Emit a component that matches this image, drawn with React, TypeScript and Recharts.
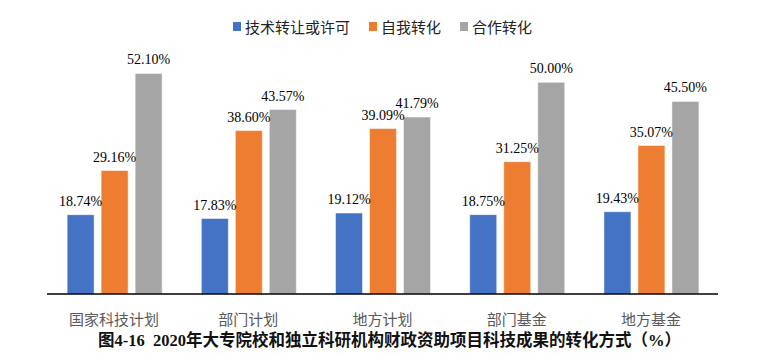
import React from "react";
import { BarChart, Bar, XAxis, YAxis, Legend, LabelList } from "recharts";

const categories = ["国家科技计划", "部门计划", "地方计划", "部门基金", "地方基金"];
const transferLicense = [18.74, 17.83, 19.12, 18.75, 19.43];
const selfTransform = [29.16, 38.6, 39.09, 31.25, 35.07];
const cooperation = [52.1, 43.57, 41.79, 50.0, 45.5];
const seriesNames = ["技术转让或许可", "自我转化", "合作转化"];
const seriesColors = ["#4472C4", "#ED7D31", "#A5A5A5"];
const titleText = "图4-16  2020年大专院校和独立科研机构财政资助项目科技成果的转化方式（%）";

const data = categories.map((c, i) => ({
  name: c,
  a: transferLicense[i],
  b: selfTransform[i],
  c: cooperation[i],
}));

const SERIF = "'Times New Roman', 'Liberation Serif', 'Noto Sans CJK SC', serif";

const LegendContent = () => (
  <div
    style={{
      height: 28,
      display: "flex",
      justifyContent: "center",
      alignItems: "center",
      fontFamily: SERIF,
      fontSize: 15,
      color: "#222",
    }}
  >
    {seriesNames.map((n, i) => (
      <div key={n} style={{ display: "flex", alignItems: "center", marginRight: i < 2 ? 19 : 0 }}>
        <span style={{ display: "inline-block", width: 8, height: 9, background: seriesColors[i], marginRight: 4 }} />
        <span>{n}</span>
      </div>
    ))}
  </div>
);

const fmt = (v: any) => `${Number(v).toFixed(2)}%`;

export default function App() {
  const labelStyle = { fontFamily: SERIF, fontSize: 14, fill: "#000" };
  return (
    <div style={{ position: "absolute", left: 0, top: 0, width: 770, height: 363, background: "#fff" }}>
      <BarChart
        width={770}
        height={363}
        data={data}
        margin={{ top: 12, right: 52, bottom: 39, left: 47 }}
        barCategoryGap="15%"
        barGap={7}
      >
        <Legend verticalAlign="top" content={<LegendContent />} />
        <XAxis
          dataKey="name"
          height={30}
          axisLine={{ stroke: "#000", strokeWidth: 1.3 }}
          tickLine={false}
          tickSize={0}
          tickMargin={20}
          tick={{ fontFamily: SERIF, fontSize: 15, fill: "#595959" }}
          interval={0}
        />
        <YAxis hide domain={[0, 60]} />
        <Bar dataKey="a" name={seriesNames[0]} fill={seriesColors[0]} stroke="#fff" strokeOpacity={0.5} isAnimationActive={false}>
          <LabelList dataKey="a" position="top" offset={9} formatter={fmt} style={labelStyle} />
        </Bar>
        <Bar dataKey="b" name={seriesNames[1]} fill={seriesColors[1]} stroke="#fff" strokeOpacity={0.5} isAnimationActive={false}>
          <LabelList dataKey="b" position="top" offset={9} formatter={fmt} style={labelStyle} />
        </Bar>
        <Bar dataKey="c" name={seriesNames[2]} fill={seriesColors[2]} stroke="#fff" strokeOpacity={0.5} isAnimationActive={false}>
          <LabelList dataKey="c" position="top" offset={9} formatter={fmt} style={labelStyle} />
        </Bar>
      </BarChart>
      <div
        style={{
          position: "absolute",
          left: 0,
          width: 779,
          top: 330,
          textAlign: "center",
          fontFamily: SERIF,
          fontWeight: "bold",
          fontSize: 16.5,
          color: "#111",
          whiteSpace: "pre",
          lineHeight: "21px",
        }}
      >
        {titleText}
      </div>
    </div>
  );
}
